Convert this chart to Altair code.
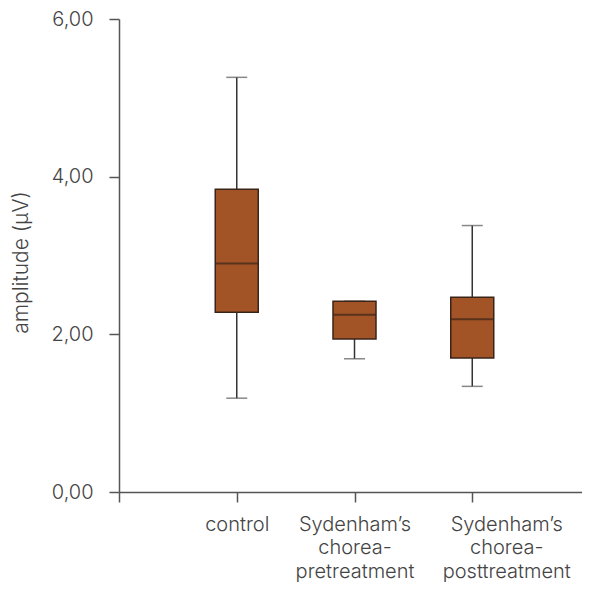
import altair as alt
import pandas as pd

groups = ["control", "Sydenham’s chorea-pretreatment", "Sydenham’s chorea-posttreatment"]
label_lines = [["control"], ["Sydenham’s", "chorea-", "pretreatment"], ["Sydenham’s", "chorea-", "posttreatment"]]
positions = [1, 2, 3]
whisker_low = [1.19, 1.69, 1.34]
q1 = [2.28, 1.94, 1.70]
median = [2.90, 2.25, 2.19]
q3 = [3.84, 2.42, 2.47]
whisker_high = [5.26, 2.42, 3.38]

df = pd.DataFrame({
    "group": groups, "pos": positions, "lo": whisker_low, "q1": q1,
    "med": median, "q3": q3, "hi": whisker_high,
})

FONT = "Inter"
AX = "#555555"
FILL = "#a25427"
EDGE = "#3a2418"

parts = []
for p, lines in zip(positions, label_lines):
    arr = "[" + ",".join("'" + s + "'" for s in lines) + "]"
    parts.append(f"datum.value == {p} ? {arr} : ")
label_expr = "".join(parts) + "''"

x = alt.X("pos:Q", scale=alt.Scale(domain=[0, 3.932], nice=False, zero=False, padding=0),
          axis=alt.Axis(values=[0, 1, 2, 3], labelExpr=label_expr, title=None,
                        grid=False, domainColor=AX, tickColor=AX, tickSize=10,
                        labelColor="#444444", labelFont=FONT, labelFontSize=20,
                        labelFontWeight=300, labelLineHeight=23.5, labelPadding=12,
                        labelOffset={"condition": {"test": "datum.value == 3", "value": 34}, "value": 0},
                        labelBaseline="top", labelOverlap=False, labelBound=False,
                        labelFlush=False,
                        domainWidth=1.5, tickWidth=1.5))
y = alt.Y("q1:Q", scale=alt.Scale(domain=[0, 6], nice=False, padding=0),
          axis=alt.Axis(values=[0, 2, 4, 6],
                        labelExpr="replace(format(datum.value, '.2f'), '.', ',')",
                        title="amplitude (μV)", grid=False, domainColor=AX,
                        tickColor=AX, tickSize=10, labelColor="#444444",
                        labelFont=FONT, labelFontSize=20, labelFontWeight=300,
                        labelPadding=16, labelOverlap=False, labelFlush=False,
                        titleFont=FONT, titleFontSize=21,
                        titleFontWeight=300, titleColor="#444444", titleX=-92,
                        titleY=243, titleAngle=-90, titleAlign="center",
                        titleBaseline="alphabetic", domainWidth=1.5, tickWidth=1.5))

base = alt.Chart(df)
whiskers = base.mark_rule(color="#333333", strokeWidth=1.5).encode(
    x=x, y=alt.Y("lo:Q"), y2="hi:Q")
caps_lo = base.mark_tick(color="#555555", orient="horizontal", size=21, thickness=1.5).encode(
    x="pos:Q", y="lo:Q")
caps_hi = base.mark_tick(color="#555555", orient="horizontal", size=21, thickness=1.5).encode(
    x="pos:Q", y="hi:Q")
boxes = base.mark_bar(size=43, color=FILL, stroke=EDGE, strokeWidth=1.5).encode(
    x="pos:Q", y=y, y2="q3:Q")
meds = base.mark_tick(color=EDGE, orient="horizontal", size=43, thickness=2).encode(
    x="pos:Q", y="med:Q")

chart = alt.layer(whiskers, caps_lo, caps_hi, boxes, meds).properties(
    width=463, height=473,
    autosize=alt.AutoSizeParams(type="none"),
    padding={"left": 111, "top": 11, "right": 0, "bottom": 92},
    background="white",
).configure_view(stroke=None)

chart.save("out.html", embed_options={"renderer": "svg", "actions": False})
